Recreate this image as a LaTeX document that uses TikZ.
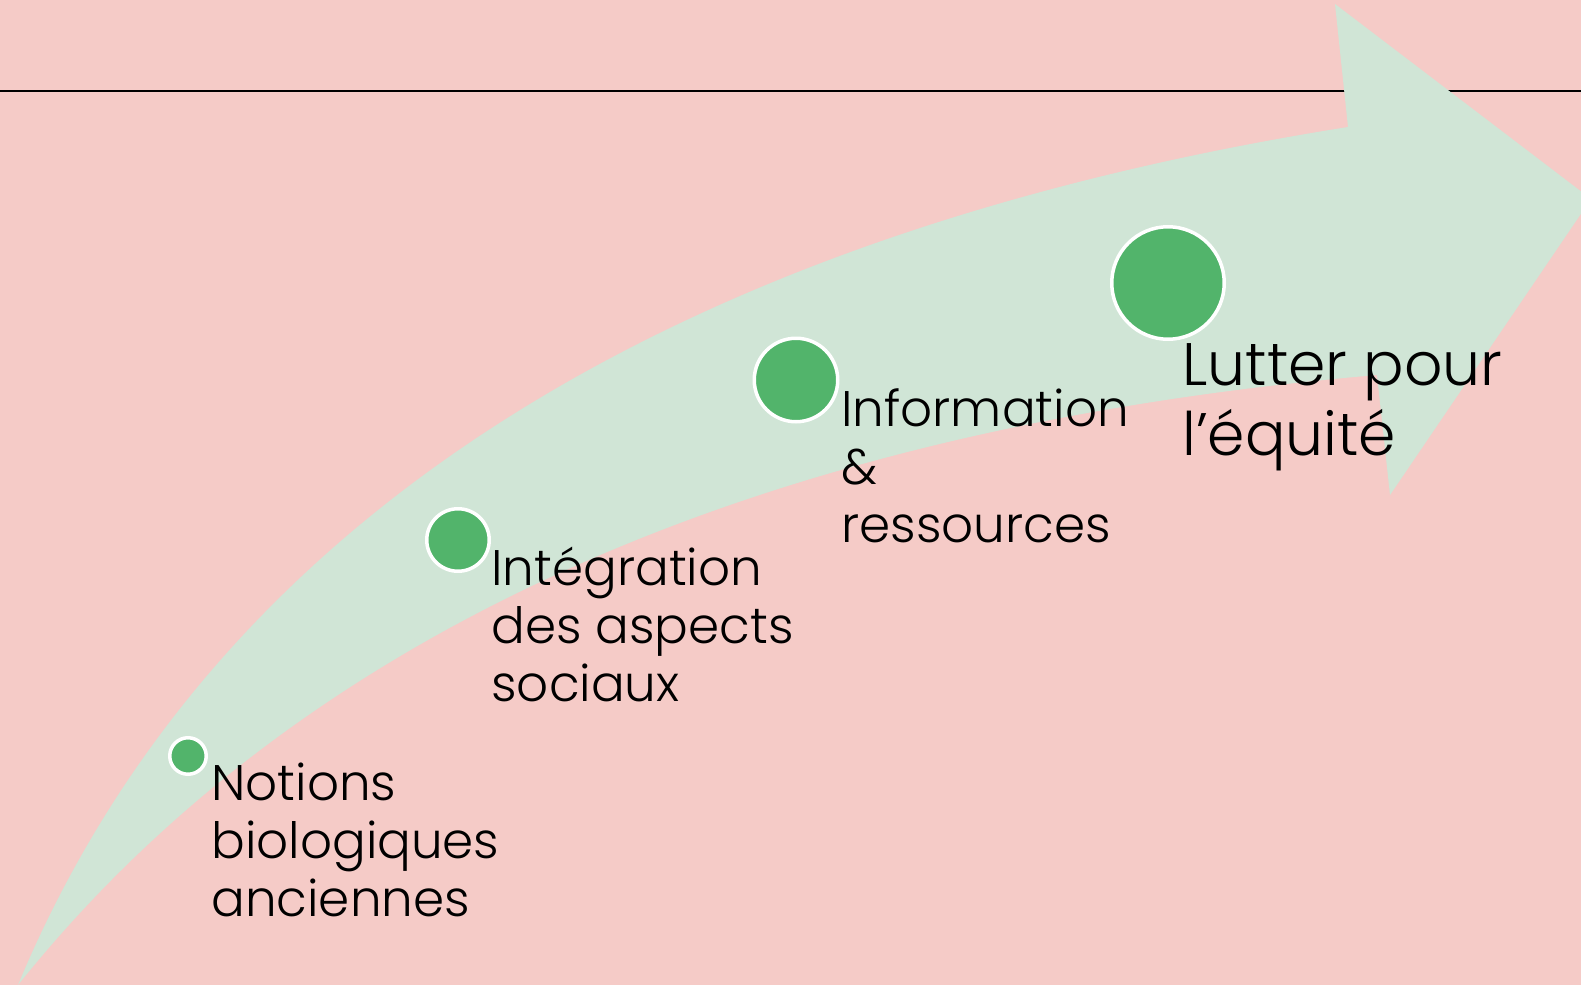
\documentclass[tikz,border=0pt]{standalone}
\usepackage{fontspec}
\setmainfont{Poppins}[UprightFont={* Light}, Ligatures=NoCommon]
\definecolor{bgpink}{RGB}{245,203,199}
\definecolor{arrowgreen}{RGB}{208,229,214}
\definecolor{dotgreen}{RGB}{82,180,107}
\tikzset{
  dot/.style={circle, fill=dotgreen, draw=white, line width=1.75pt, inner sep=0pt},
  lbl/.style={anchor=base west, inner sep=0pt, text=black},
}
\newcommand{\lbltext}[1]{\fontsize{25}{29}\selectfont\begin{tabular}[t]{@{}l@{}}#1\end{tabular}}
\newcommand{\bigtext}[1]{\fontsize{30}{35}\selectfont\begin{tabular}[t]{@{}l@{}}#1\end{tabular}}
\begin{document}
\begin{tikzpicture}[x=0.5pt, y=-0.5pt]
\useasboundingbox (0,0) rectangle (1581,985);
\fill[bgpink] (0,0) rectangle (1581,985);
\coordinate (lineL) at (0,91);
\coordinate (lineR) at (1581,91);
\draw[black, line width=0.7pt] (lineL) -- (lineR);
\fill[arrowgreen] (18,985) .. controls (220,500) and (700,230) .. (1348,127)
  -- (1335,4) -- (1591,199) -- (1390,495) -- (1377,375)
  .. controls (620,440) and (230,720) .. (18,985) -- cycle;
\node[dot, minimum size=18.25pt] (c1) at (188,756) {};
\node[dot, minimum size=31.25pt] (c2) at (458,540) {};
\node[dot, minimum size=41.75pt] (c3) at (796,380) {};
\node[dot, minimum size=56.25pt] (c4) at (1168,283) {};
\node[lbl] (t1) at (211,800) {\lbltext{Notions\\biologiques\\anciennes}};
\node[lbl] (t2) at (491,585) {\lbltext{Intégration\\des aspects\\sociaux}};
\node[lbl] (t3) at (841,426) {\lbltext{Information\\\&\\ressources}};
\node[lbl] (t4) at (1182,385) {\bigtext{Lutter pour\\l’équité}};
\end{tikzpicture}
\end{document}
